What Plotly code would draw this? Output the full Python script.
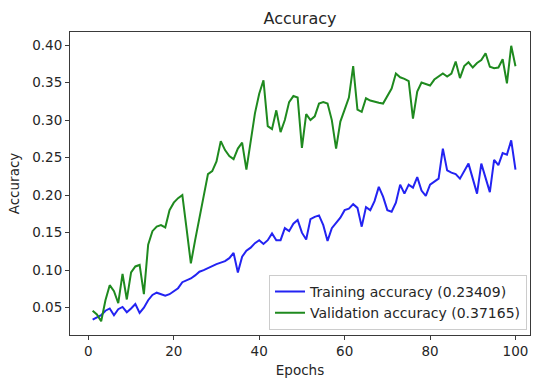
import plotly.graph_objects as go

# Per-epoch history of the training run
epochs = list(range(1, 101))

train_acc = [
    0.034, 0.037, 0.040, 0.046, 0.049, 0.040, 0.048, 0.051, 0.044, 0.049,
    0.055, 0.043, 0.050, 0.060, 0.067, 0.070, 0.068, 0.066, 0.068, 0.072,
    0.076, 0.084, 0.086, 0.089, 0.093, 0.098, 0.100, 0.103, 0.105, 0.108,
    0.110, 0.112, 0.116, 0.123, 0.097, 0.118, 0.126, 0.130, 0.136, 0.140,
    0.135, 0.140, 0.149, 0.140, 0.140, 0.156, 0.152, 0.162, 0.167, 0.150,
    0.141, 0.168, 0.171, 0.173, 0.160, 0.139, 0.156, 0.163, 0.170, 0.180,
    0.182, 0.188, 0.183, 0.158, 0.184, 0.180, 0.192, 0.211, 0.198, 0.180,
    0.178, 0.190, 0.214, 0.202, 0.214, 0.210, 0.224, 0.206, 0.199, 0.214,
    0.218, 0.222, 0.262, 0.233, 0.230, 0.228, 0.222, 0.232, 0.242, 0.222,
    0.202, 0.242, 0.224, 0.204, 0.247, 0.240, 0.256, 0.254, 0.273, 0.23409,
]

val_acc = [
    0.046, 0.041, 0.032, 0.060, 0.080, 0.072, 0.056, 0.095, 0.061, 0.097,
    0.105, 0.107, 0.068, 0.134, 0.152, 0.158, 0.160, 0.157, 0.180, 0.190,
    0.196, 0.200, 0.155, 0.109, 0.140, 0.170, 0.200, 0.228, 0.232, 0.245,
    0.272, 0.260, 0.252, 0.248, 0.262, 0.270, 0.234, 0.275, 0.309, 0.335,
    0.353, 0.292, 0.288, 0.313, 0.284, 0.300, 0.324, 0.332, 0.330, 0.263,
    0.308, 0.300, 0.305, 0.322, 0.324, 0.322, 0.300, 0.262, 0.298, 0.314,
    0.330, 0.372, 0.314, 0.311, 0.329, 0.326, 0.324, 0.323, 0.322, 0.333,
    0.342, 0.362, 0.357, 0.355, 0.352, 0.302, 0.338, 0.350, 0.348, 0.346,
    0.354, 0.358, 0.362, 0.358, 0.362, 0.378, 0.356, 0.372, 0.377, 0.370,
    0.376, 0.380, 0.389, 0.371, 0.369, 0.370, 0.381, 0.349, 0.399, 0.37165,
]

x_ticks = [0, 20, 40, 60, 80, 100]
y_ticks = [0.05, 0.10, 0.15, 0.20, 0.25, 0.30, 0.35, 0.40]

FONT = "DejaVu Sans"
TEXT = "#262626"
FRAME = "#3a3a3a"

# y limits padded by 5% of the data span on each side
lo = min(min(train_acc), min(val_acc))
hi = max(max(train_acc), max(val_acc))
pad = 0.05 * (hi - lo)

fig = go.Figure()
fig.add_trace(go.Scatter(
    x=epochs, y=train_acc, mode="lines",
    name=f"Training accuracy ({train_acc[-1]:.5f})",
    line=dict(color="#2323f2", width=2),
))
fig.add_trace(go.Scatter(
    x=epochs, y=val_acc, mode="lines",
    name=f"Validation accuracy ({val_acc[-1]:.5f})",
    line=dict(color="#1f8a1f", width=2),
))

axis_common = dict(
    showline=True, mirror=True, linecolor=FRAME, linewidth=1,
    ticks="outside", ticklen=4, tickwidth=1, tickcolor=FRAME,
    showgrid=False, zeroline=False,
    tickfont=dict(family=FONT, size=13.5, color=TEXT),
)

fig.update_layout(
    width=534, height=383,
    margin=dict(l=70, r=4, t=32, b=48),
    paper_bgcolor="white", plot_bgcolor="white",
    font=dict(family=FONT, size=13.5, color=TEXT),
    title=dict(
        text="Accuracy", x=0.5, xref="paper", xanchor="center",
        y=1 - 18.5 / 383, yref="container", yanchor="middle",
        font=dict(family=FONT, size=16, color=TEXT),
    ),
    xaxis=dict(
        range=[-4.3, 103.4], tickvals=x_ticks,
        title=dict(text="Epochs", standoff=7,
                   font=dict(family=FONT, size=13.5, color=TEXT)),
        **axis_common,
    ),
    yaxis=dict(
        range=[lo - pad, hi + pad], tickvals=y_ticks, tickformat=".2f",
        title=dict(text="Accuracy", standoff=9,
                   font=dict(family=FONT, size=13.5, color=TEXT)),
        **axis_common,
    ),
    legend=dict(
        x=0.9935, y=0.017, xanchor="right", yanchor="bottom",
        bgcolor="rgba(255,255,255,0.8)", bordercolor="#cccccc", borderwidth=1,
        font=dict(family=FONT, size=14, color=TEXT),
        itemwidth=30, tracegroupgap=0,
    ),
    showlegend=True,
)

fig.write_html("out.html")
